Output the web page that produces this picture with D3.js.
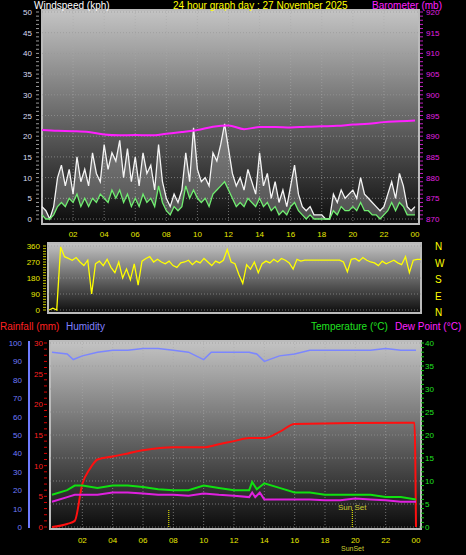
<!DOCTYPE html>
<html><head><meta charset="utf-8">
<script src="https://cdn.jsdelivr.net/npm/d3@7"></script>
<style>body{margin:0;background:#000}svg{display:block;font-family:"Liberation Sans",sans-serif}</style>
</head><body><div id="chart"></div>
<script>
// data (hours 0..24)
var quarterHours = d3.range(97).map(function(i){ return i / 4; });
var windGust = [3,2,0,3, 10,13,8,12, 6,15,9,12, 8,16,11,9, 18,12,16,14, 19,10,17,9, 15,8,16,11, 13,7,18,9,
  5,3,6,4, 7,16,9,22, 12,9,10,8, 16,14,18,23, 17,11,8,10, 7,12,9,6, 16,8,11,5, 9,4,7,3, 8,13,6,3,
  2,3,1,1, 1,0,0,6, 4,7,5,6, 7,5,10,6, 5,4,3,2, 3,6,9,5, 11,8,3,2, 3];
var windAvg = [1,0,0,1, 3,4,3,5, 4,6,3,5, 3,5,4,6, 5,4,7,5, 7,4,6,3, 5,3,6,4, 5,3,8,4,
  2,1,3,2, 3,8,5,7, 5,4,5,3, 6,7,8,9, 7,5,3,4, 3,5,4,3, 5,3,4,2, 3,1,2,1, 3,4,2,1,
  0,1,0,0, 0,0,0,2, 1,3,2,2, 3,2,4,2, 2,1,1,0, 1,2,4,2, 4,3,1,1, 1];
var windDir = [0,10,0,355, 300,290,280,295, 270,250,280,90, 260,275,250,285, 240,210,270,180, 230,170,260,140,
  275,290,300,270, 285,270,260,275, 250,240,265,270, 280,255,275,265, 290,270,250,275, 265,280,340,270,
  260,200,150,255, 230,270,210,260, 275,265,285,270, 290,280,265,230, 285,275,280,280, 280,280,280,280,
  280,280,280,280, 270,215,285,290, 275,295,280,270, 265,250,275,260, 270,280,265,255, 300,210,280,285, 285];
var baroHours = d3.range(25);
var barometer = [891.5,891.3,891.2,891.0,890.4,890.2,890.3,890.2,890.6,891.0,891.5,892.3,892.6,891.7,892.2,892.2,892.1,892.3,892.4,892.5,892.8,893.0,893.4,893.6,893.8];
var humHours = [0,1,1.4,2,3,4,5,6,7,8,9,10,10.5,11,12,13,13.5,14,15,16,17,18,19,20,21,22,23,24];
var humidity = [95,94,91,93,95,96,96,97,97,96,95,91,95,95,95,95,94,90,93,94,96,96,96,96,96,97,96,96];
var rainHours = [0,1,1.5,2,2.5,3,4,5,6,8,10,11,12,13,14,15,16,23.5,23.9,24];
var rainfall = [0,0.5,1,7,9.5,11,11.5,12,12.5,13,13,13.5,14,14.5,14.5,15.5,16.8,17,17,0];
var tempHours = [0,1,1.5,2,3,4,5,6,7,8,9,10,11,12,13,13.2,13.5,14,15,16,17,18,19,20,21,22,23,24];
var temperature = [7,8,9,9,8.5,9,9,8.7,8.2,8,8,9,8.5,8,8,9.8,8.2,9.5,8.5,7.5,7.5,7,7,7,7,6.5,6.5,6];
var dewHours = [0,1,1.5,3,4,5,6,7,8,9,10,11,12,13,13.2,13.4,13.7,14,15,16,17,18,19,20,21,22,23,24];
var dewPoint = [5.5,6.5,7,7,7.5,7.5,7.3,7,7,6.8,7.3,7,6.8,6.5,7.5,6.5,7.5,6,6,6,6,5.8,5.8,6.2,6,5.8,5.5,5.5];
var hourLabels = ["02","04","06","08","10","12","14","16","18","20","22","00"];

var W = 466, H = 555;
var svg = d3.select("#chart").append("svg").attr("width", W).attr("height", H);
var defs = svg.append("defs");
var grad = defs.append("linearGradient").attr("id", "bg").attr("x1", 0).attr("y1", 0).attr("x2", 0).attr("y2", 1);
grad.append("stop").attr("offset", "0%").attr("stop-color", "#c4c4c4");
grad.append("stop").attr("offset", "100%").attr("stop-color", "#0c0c0c");

function panel(x0, x1, y0, y1, yTicks, yScale) {
  svg.append("rect").attr("x", x0).attr("y", y0).attr("width", x1 - x0).attr("height", y1 - y0)
    .attr("fill", "url(#bg)").attr("stroke", "#bbb").attr("stroke-width", 2);
  var g = svg.append("g").attr("stroke", "#999").attr("stroke-dasharray", "1,2").attr("stroke-opacity", 0.7);
  yTicks.forEach(function(t){ g.append("line").attr("x1", x0).attr("x2", x1).attr("y1", yScale(t)).attr("y2", yScale(t)); });
}
function vgrid(x, y0, y1) {
  var g = svg.append("g").attr("stroke", "#aaa").attr("stroke-dasharray", "1,2").attr("stroke-opacity", 0.6);
  d3.range(2, 24, 2).forEach(function(h){ g.append("line").attr("x1", x(h)).attr("x2", x(h)).attr("y1", y0).attr("y2", y1); });
}
function ylabels(scale, ticks, xPos, color, anchor) {
  svg.append("g").selectAll("text").data(ticks).join("text")
    .attr("x", xPos).attr("y", function(d){ return scale(d) + 3; })
    .attr("text-anchor", anchor).attr("font-size", 8).attr("fill", color).text(function(d){ return d; });
}
function minorTicks(scale, domain, step, xPos, len, color) {
  svg.append("g").selectAll("line").data(d3.range(domain[0], domain[1] + 0.001, step)).join("line")
    .attr("x1", xPos).attr("x2", xPos + len).attr("y1", function(d){ return scale(d); }).attr("y2", function(d){ return scale(d); })
    .attr("stroke", color).attr("stroke-width", 1);
}
function xlabels(x, yPos) {
  svg.append("g").selectAll("text").data(hourLabels).join("text")
    .attr("x", function(d, i){ return x((i + 1) * 2); }).attr("y", yPos).attr("text-anchor", "middle")
    .attr("font-size", 8).attr("fill", "#e8e800").text(function(d){ return d; });
}
function path(x, y, xs, ys, color, w, curve) {
  var line = d3.line().x(function(d){ return x(d[0]); }).y(function(d){ return y(d[1]); }).curve(curve || d3.curveLinear);
  svg.append("path").datum(xs.map(function(v, i){ return [v, ys[i]]; })).attr("d", line)
    .attr("fill", "none").attr("stroke", color).attr("stroke-width", w);
}

// Top panel: wind + barometer
var x1 = d3.scaleLinear().domain([0, 24]).range([42, 415]);
var yWind = d3.scaleLinear().domain([0, 50]).range([219, 12]);
var yBaro = d3.scaleLinear().domain([870, 920]).range([219, 12]);
panel(42, 419, 10, 224, d3.range(0, 51, 5), yWind);
vgrid(x1, 10, 224);
ylabels(yWind, d3.range(0, 51, 5), 32, "#d8dcf0", "end");
minorTicks(yWind, [0, 50], 1, 36, 3, "#999");
ylabels(yBaro, d3.range(870, 921, 5), 426, "#e020e0", "start");
minorTicks(yBaro, [870, 920], 1, 420, 3, "#c020c0");
xlabels(x1, 237);
svg.append("path").datum(quarterHours.map(function(h, i){ return [h, windGust[i], windAvg[i]]; }))
  .attr("d", d3.area().x(function(d){ return x1(d[0]); }).y0(function(d){ return yWind(d[2]); }).y1(function(d){ return yWind(d[1]); }))
  .attr("fill", "#ddd").attr("fill-opacity", 0.3);
path(x1, yWind, quarterHours, windGust, "#f4f4f4", 1.3);
path(x1, yWind, quarterHours, windAvg, "#70ee70", 1.3);
path(x1, yBaro, baroHours, barometer, "#ff20ff", 2, d3.curveMonotoneX);
svg.append("text").attr("x", 34).attr("y", 9).attr("font-size", 10).attr("fill", "#fff").text("Windspeed (kph)");
svg.append("text").attr("x", 173).attr("y", 9).attr("font-size", 10).attr("fill", "#ffff00").text("24 hour graph day : 27 November 2025");
svg.append("text").attr("x", 372).attr("y", 9).attr("font-size", 10).attr("fill", "#ff20ff").text("Barometer (mb)");

// Middle panel: wind direction
var x2 = d3.scaleLinear().domain([0, 24]).range([49, 421]);
var yDir = d3.scaleLinear().domain([0, 360]).range([310, 246]);
panel(48, 421, 243, 313, [0, 90, 180, 270, 360], yDir);
ylabels(yDir, [0, 90, 180, 270, 360], 40, "#e8e800", "end");
minorTicks(yDir, [0, 360], 15, 43, 3, "#cc0");
path(x2, yDir, quarterHours, windDir, "#ffff00", 1.3);
svg.append("g").selectAll("text").data(["N", "W", "S", "E", "N"]).join("text")
  .attr("x", 435).attr("y", function(d, i){ return 250 + i * 16.5; }).attr("font-size", 10).attr("fill", "#ffff00").text(function(d){ return d; });

// Bottom panel: rain, humidity, temp, dew point
var x3 = d3.scaleLinear().domain([0, 24]).range([52, 416]);
var yRain = d3.scaleLinear().domain([0, 30]).range([527, 343]);
var yHum = d3.scaleLinear().domain([0, 100]).range([527, 343]);
var yTemp = d3.scaleLinear().domain([0, 40]).range([527, 343]);
panel(50, 421, 341, 529, d3.range(0, 41, 5), yTemp);
vgrid(x3, 341, 529);
ylabels(yHum, d3.range(0, 101, 10), 22, "#6f7cff", "end");
svg.append("line").attr("x1", 29).attr("x2", 29).attr("y1", 341).attr("y2", 528).attr("stroke", "#6f7cff").attr("stroke-width", 2);
ylabels(yRain, d3.range(0, 31, 5), 43, "#ff2020", "end");
minorTicks(yRain, [0, 30], 1, 44, 3, "#d00");
ylabels(yTemp, d3.range(0, 41, 5), 425, "#20e020", "start");
minorTicks(yTemp, [0, 40], 1, 421, 3, "#1c1");
xlabels(x3, 543);
// sunrise / sunset markers
[7.7, 19.8].forEach(function(h){
  svg.append("line").attr("x1", x3(h)).attr("x2", x3(h)).attr("y1", 510).attr("y2", 527)
    .attr("stroke", "#ffff00").attr("stroke-dasharray", "1,1");
});
svg.append("text").attr("x", 338).attr("y", 510).attr("font-size", 8).attr("fill", "#cccc30").text("Sun Set");
svg.append("text").attr("x", 341).attr("y", 551).attr("font-size", 7).attr("fill", "#cccc30").text("SunSet");
path(x3, yHum, humHours, humidity, "#7b86ff", 1.5);
path(x3, yRain, rainHours, rainfall, "#ff1010", 2, d3.curveMonotoneX);
path(x3, yTemp, tempHours, temperature, "#10e010", 2);
path(x3, yTemp, dewHours, dewPoint, "#e020e0", 2);
svg.append("text").attr("x", 0).attr("y", 330).attr("font-size", 10).attr("fill", "#ff2020").text("Rainfall (mm)");
svg.append("text").attr("x", 66).attr("y", 330).attr("font-size", 10).attr("fill", "#8080ff").text("Humidity");
svg.append("text").attr("x", 311).attr("y", 330).attr("font-size", 10).attr("fill", "#20e020").text("Temperature (°C)");
svg.append("text").attr("x", 395).attr("y", 330).attr("font-size", 10).attr("fill", "#ff20ff").text("Dew Point (°C)");
</script></body></html>
